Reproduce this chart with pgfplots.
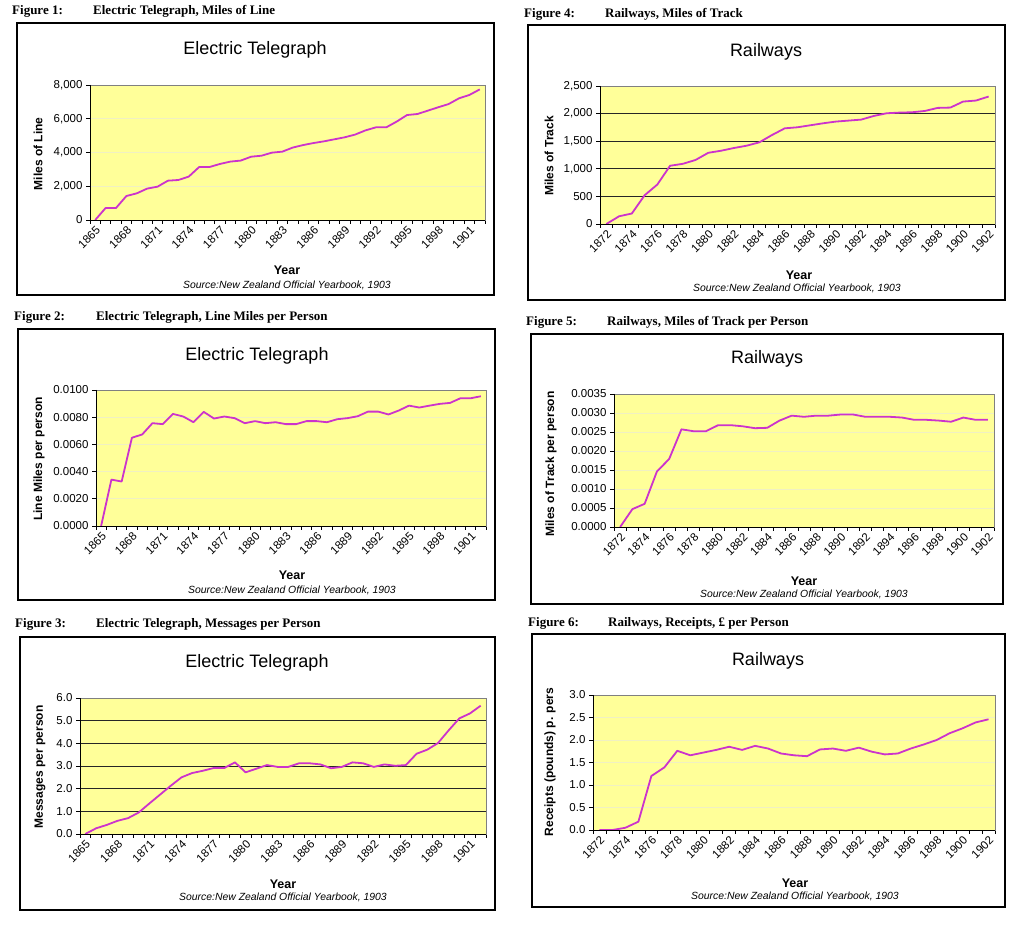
\documentclass[border=0pt]{standalone}
\usepackage{fontspec}
\setmainfont{Liberation Serif}
\setsansfont{Liberation Sans}
\usepackage{pgfplots}
\usepackage{pgfplotstable}
\pgfplotsset{compat=1.18}

\definecolor{plotbg}{RGB}{255,255,153}
\definecolor{plotline}{RGB}{204,51,204}
\definecolor{plotborder}{RGB}{128,128,128}
\definecolor{gridfaint}{RGB}{240,240,195}

% Electric telegraph, 1865-1902
\pgfplotstableread{
year miles perperson messages
1865 0    0       0.00
1866 710  0.00341 0.25
1867 710  0.00327 0.40
1868 1420 0.00649 0.58
1869 1580 0.00673 0.70
1870 1860 0.00756 0.95
1871 1975 0.00749 1.35
1872 2330 0.00824 1.74
1873 2370 0.00805 2.13
1874 2570 0.00763 2.50
1875 3140 0.00839 2.69
1876 3140 0.00790 2.79
1877 3320 0.00805 2.91
1878 3460 0.00793 2.91
1879 3520 0.00756 3.16
1880 3750 0.00771 2.72
1881 3810 0.00756 2.88
1882 3990 0.00763 3.04
1883 4050 0.00749 2.96
1884 4290 0.00749 2.96
1885 4440 0.00771 3.12
1886 4560 0.00771 3.12
1887 4660 0.00763 3.07
1888 4780 0.00785 2.90
1889 4900 0.00793 2.96
1890 5060 0.00807 3.16
1891 5310 0.00841 3.12
1892 5490 0.00841 2.96
1893 5490 0.00820 3.07
1894 5830 0.00849 3.01
1895 6220 0.00885 3.04
1896 6280 0.00871 3.54
1897 6480 0.00885 3.72
1898 6680 0.00898 4.01
1899 6870 0.00905 4.57
1900 7210 0.00939 5.10
1901 7410 0.00939 5.32
1902 7740 0.00954 5.66
}\telegraph

% Railways, 1872-1902
\pgfplotstableread{
year track perperson receipts
1872 0    0       0.00
1873 140  0.00047 0.00
1874 190  0.00061 0.05
1875 520  0.00146 0.185
1876 715  0.00179 1.20
1877 1055 0.00257 1.39
1878 1090 0.00252 1.76
1879 1160 0.00252 1.66
1880 1290 0.00268 1.72
1881 1327 0.00268 1.78
1882 1376 0.00265 1.85
1883 1418 0.00260 1.78
1884 1479 0.00261 1.87
1885 1612 0.00280 1.81
1886 1733 0.00293 1.70
1887 1752 0.00290 1.66
1888 1788 0.00293 1.64
1889 1824 0.00293 1.79
1890 1855 0.00296 1.81
1891 1873 0.00296 1.76
1892 1891 0.00290 1.83
1893 1958 0.00290 1.74
1894 2006 0.00290 1.68
1895 2018 0.00288 1.70
1896 2024 0.00282 1.81
1897 2048 0.00282 1.90
1898 2103 0.00280 2.00
1899 2109 0.00277 2.15
1900 2218 0.00288 2.26
1901 2236 0.00282 2.39
1902 2309 0.00282 2.46
}\railways

\pgfplotsset{
  panel/.style={
    scale only axis, anchor=south west, clip=false,
    axis background/.style={fill=plotbg},
    axis line style={draw=plotborder, line width=0.8pt},
    tick align=outside, tick pos=left,
    major tick length=4pt, minor tick length=4pt,
    tick style={black, line width=0.7pt},
    major x tick style={draw=none},
    ymin=0, ymajorgrids,
    /pgf/number format/assume math mode=true,
    ticklabel style={font=\sffamily\fontsize{11.5}{12}\selectfont},
    x tick label style={rotate=45, anchor=north east, inner sep=1pt,
      /pgf/number format/1000 sep={}},
    scaled y ticks=false,
    after end axis/.code={\draw[black, line width=0.8pt]
      (rel axis cs:0,1) -- (rel axis cs:0,0) -- (rel axis cs:1,0);},
  },
  faint/.style={major grid style={draw=gridfaint, line width=0.8pt}},
  dark/.style={major grid style={draw=black!85, line width=0.8pt}},
  tele/.style={xmin=1864.5, xmax=1902.5, xtick={1865,1868,...,1901},
    minor xtick={1864.5,1865.5,...,1902.5}},
  rail/.style={xmin=1871.5, xmax=1902.5, xtick={1872,1874,...,1902},
    minor xtick={1871.5,1872.5,...,1902.5}},
  series/.style={draw=plotline, line width=1.8pt, line join=round, no marks},
}

\tikzset{
  figframe/.style={draw=black, line width=1.2pt, fill=white},
  figcap/.style={anchor=west, font=\bfseries\fontsize{13}{15}\selectfont, inner sep=0pt},
  ctitle/.style={font=\sffamily\fontsize{18}{20}\selectfont},
  xlab/.style={font=\sffamily\bfseries\fontsize{12.5}{14}\selectfont},
  ylab/.style={font=\sffamily\bfseries\fontsize{12}{14}\selectfont, rotate=90},
  srcnote/.style={font=\sffamily\itshape\fontsize{10.4}{12}\selectfont},
}

\begin{document}
\begin{tikzpicture}[x=1pt, y=1pt]
\useasboundingbox (0,0) rectangle (1024,944);

% frames
\draw[figframe] (17,649) rectangle (494,921);
\draw[figframe] (18,344) rectangle (495,615);
\draw[figframe] (20,34) rectangle (495,307);
\draw[figframe] (528,644) rectangle (1005,919);
\draw[figframe] (531,340) rectangle (1003,610);
\draw[figframe] (532,37) rectangle (1005,310);

% captions
\node[figcap] at (12,933) {Figure 1:};
\node[figcap] at (93,933) {Electric Telegraph, Miles of Line};
\node[figcap] at (14,627) {Figure 2:};
\node[figcap] at (96,627) {Electric Telegraph, Line Miles per Person};
\node[figcap] at (15,320) {Figure 3:};
\node[figcap] at (96,320) {Electric Telegraph, Messages per Person};
\node[figcap] at (524,930) {Figure 4:};
\node[figcap] at (605,930) {Railways, Miles of Track};
\node[figcap] at (526,622) {Figure 5:};
\node[figcap] at (607,622) {Railways, Miles of Track per Person};
\node[figcap] at (528,321) {Figure 6:};
\node[figcap] at (608,321) {Railways, Receipts, £ per Person};

% Figure 1
\begin{axis}[panel, faint, tele, at={(90pt,724pt)}, width=395pt, height=135pt,
  ymax=8000, ytick={0,2000,...,8000}]
\addplot[series] table[x=year, y=miles] {\telegraph};
\end{axis}
\node[ctitle] at (255,894) {Electric Telegraph};
\node[ylab] at (38,790) {Miles of Line};
\node[xlab] at (287,674) {Year};
\node[srcnote] at (287,659) {Source:New Zealand Official Yearbook, 1903};

% Figure 2
\begin{axis}[panel, faint, tele, at={(96pt,418pt)}, width=390pt, height=136pt,
  ymax=0.01, ytick={0,0.002,...,0.0101},
  y tick label style={/pgf/number format/.cd, fixed, fixed zerofill, precision=4}]
\addplot[series] table[x=year, y=perperson] {\telegraph};
\end{axis}
\node[ctitle] at (257,588) {Electric Telegraph};
\node[ylab] at (39,485) {Line Miles per person};
\node[xlab] at (292,369) {Year};
\node[srcnote] at (292,354) {Source:New Zealand Official Yearbook, 1903};

% Figure 3
\begin{axis}[panel, dark, tele, at={(80pt,110pt)}, width=406pt, height=136pt,
  ymax=6, ytick={0,1,...,6},
  y tick label style={/pgf/number format/.cd, fixed, fixed zerofill, precision=1}]
\addplot[series] table[x=year, y=messages] {\telegraph};
\end{axis}
\node[ctitle] at (257,281) {Electric Telegraph};
\node[ylab] at (40,177) {Messages per person};
\node[xlab] at (283,60) {Year};
\node[srcnote] at (283,47) {Source:New Zealand Official Yearbook, 1903};

% Figure 4
\begin{axis}[panel, dark, rail, at={(600pt,720pt)}, width=395pt, height=138pt,
  ymax=2500, ytick={0,500,...,2500}]
\addplot[series] table[x=year, y=track] {\railways};
\end{axis}
\node[ctitle] at (766,892) {Railways};
\node[ylab] at (549,788) {Miles of Track};
\node[xlab] at (799,669) {Year};
\node[srcnote] at (797,656) {Source:New Zealand Official Yearbook, 1903};

% Figure 5
\begin{axis}[panel, faint, rail, at={(614pt,417pt)}, width=380pt, height=133pt,
  ymax=0.0035, ytick={0,0.0005,...,0.00351},
  y tick label style={/pgf/number format/.cd, fixed, fixed zerofill, precision=4}]
\addplot[series] table[x=year, y=perperson] {\railways};
\end{axis}
\node[ctitle] at (767,585) {Railways};
\node[ylab] at (551,480) {Miles of Track per person};
\node[xlab] at (804,363) {Year};
\node[srcnote] at (804,350) {Source:New Zealand Official Yearbook, 1903};

% Figure 6
\begin{axis}[panel, faint, rail, at={(593pt,114pt)}, width=402pt, height=135pt,
  ymax=3, ytick={0,0.5,...,3},
  y tick label style={/pgf/number format/.cd, fixed, fixed zerofill, precision=1}]
\addplot[series] table[x=year, y=receipts] {\railways};
\end{axis}
\node[ctitle] at (768,283) {Railways};
\node[ylab] at (550,182) {Receipts (pounds) p. pers};
\node[xlab] at (795,61) {Year};
\node[srcnote] at (795,48) {Source:New Zealand Official Yearbook, 1903};

\end{tikzpicture}
\end{document}
